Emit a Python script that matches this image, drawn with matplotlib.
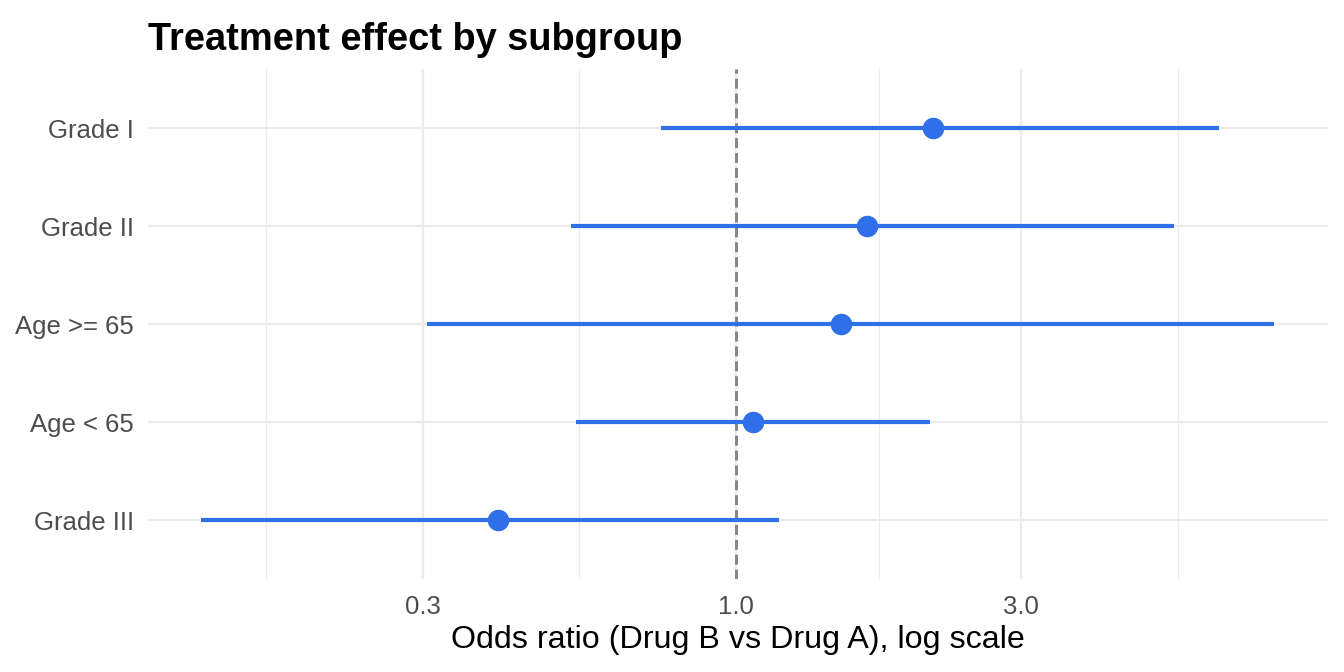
import matplotlib
matplotlib.use("Agg")
import matplotlib.pyplot as plt
import numpy as np
from matplotlib.ticker import FixedLocator, NullFormatter, FixedFormatter

# subgroups, top to bottom
subgroups = ["Grade I", "Grade II", "Age >= 65", "Age < 65", "Grade III"]
odds_ratio = [2.14, 1.66, 1.50, 1.07, 0.40]
ci_low = [0.75, 0.53, 0.305, 0.54, 0.128]
ci_high = [6.42, 5.40, 7.94, 2.11, 1.18]

major_breaks = [0.3, 1.0, 3.0]
major_labels = ["0.3", "1.0", "3.0"]
minor_breaks = [0.164, 0.548, 1.732, 5.48]

BLUE = "#2f6fe8"
GRID = "#ebebeb"
TEXT = "#4d4d4d"

plt.rcParams["font.family"] = ["Liberation Sans", "DejaVu Sans"]

fig = plt.figure(figsize=(13.44, 6.72), dpi=100)
ax = fig.add_axes([0.110, 0.138, 0.878, 0.759])

ax.set_xscale("log")
ypos = list(range(len(subgroups)))[::-1]

ax.hlines(ypos, ci_low, ci_high, color=BLUE, linewidth=3.0, zorder=3)
ax.plot(odds_ratio, ypos, "o", color=BLUE, markersize=14.5, zorder=4)
ax.axvline(1.0, color="#858585", linewidth=2.1, dashes=(3.4, 1.7), zorder=2)

# ggplot-style 5% expansion on the log scale
lo, hi = np.log10(min(ci_low)), np.log10(max(ci_high))
pad = 0.05 * (hi - lo)
ax.set_xlim(10 ** (lo - pad), 10 ** (hi + pad))
ax.set_ylim(-0.6, len(subgroups) - 0.4)

ax.xaxis.set_major_locator(FixedLocator(major_breaks))
ax.xaxis.set_major_formatter(FixedFormatter(major_labels))
ax.xaxis.set_minor_locator(FixedLocator(minor_breaks))
ax.xaxis.set_minor_formatter(NullFormatter())
ax.set_yticks(ypos)
ax.set_yticklabels(subgroups)

ax.grid(True, which="major", color=GRID, linewidth=1.6, zorder=0)
ax.grid(True, which="minor", axis="x", color=GRID, linewidth=0.8, zorder=0)
ax.set_axisbelow(True)
for s in ax.spines.values():
    s.set_visible(False)
ax.tick_params(which="both", length=0)
ax.tick_params(axis="both", labelsize=18.5, labelcolor=TEXT)
ax.tick_params(axis="x", pad=11)
ax.tick_params(axis="y", pad=10)

ax.set_xlabel("Odds ratio (Drug B vs Drug A), log scale", fontsize=23.2, labelpad=5)
ax.set_title("Treatment effect by subgroup", fontsize=27.4, fontweight="bold",
             loc="left", pad=14)

fig.savefig("out.png", dpi=100, facecolor="white")
